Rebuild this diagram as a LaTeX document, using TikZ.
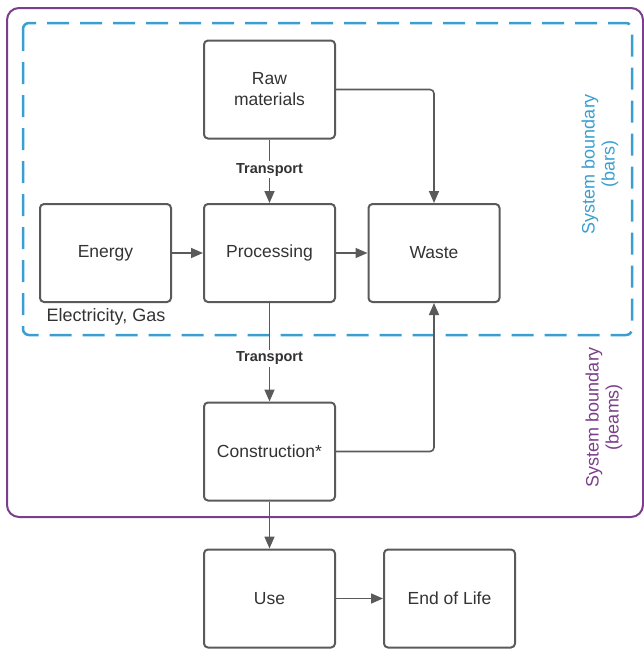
\documentclass[tikz,border=0pt]{standalone}
\usepackage{fontspec}
\setmainfont{Liberation Sans}
\usetikzlibrary{arrows.meta}
\definecolor{boxline}{HTML}{5A5A5A}
\definecolor{boxtext}{HTML}{333333}
\definecolor{bluebd}{HTML}{3A9FD0}
\definecolor{purplebd}{HTML}{7A3E8A}
\tikzset{
  flowbox/.style={draw=boxline, line width=2pt, rounded corners=4pt, minimum width=131pt, minimum height=98pt, inner sep=0pt, align=center, text=boxtext, font=\fontsize{17.5}{21}\selectfont},
  flowarrow/.style={draw=boxline, line width=1.6pt, -{Triangle[length=12pt,width=10pt]}},
  translabel/.style={fill=white, inner sep=2pt, text=boxtext, font=\fontsize{14.5}{17}\selectfont\bfseries},
  sidelabel/.style={rotate=90, align=center, font=\fontsize{18}{20}\selectfont}
}
\begin{document}
\begin{tikzpicture}[x=1pt,y=-1pt]
\useasboundingbox (0,0) rectangle (644,649);
% boundaries
\draw[purplebd, line width=2pt, rounded corners=12pt] (7,8) rectangle (643,517);
\draw[bluebd, line width=2.5pt, dash pattern=on 22pt off 11pt, rounded corners=6pt] (23,23) rectangle (632,335);
% boxes
\node[flowbox] (raw) at (269.5,89.5) {Raw\\materials};
\node[flowbox] (energy) at (105.5,253) {Energy};
\node[flowbox] (proc) at (269.5,253) {Processing};
\node[flowbox] (waste) at (434,253) {Waste};
\node[flowbox] (cons) at (269.5,451.5) {Construction*};
\node[flowbox] (use) at (269.5,598.5) {Use};
\node[flowbox] (eol) at (449.5,598.5) {End of Life};
% labels
\node[text=boxtext, font=\fontsize{18}{20}\selectfont] (elec) at (106,317) {Electricity, Gas};
\node[text=bluebd, sidelabel] (sbbars) at (600,164) {System boundary\\(bars)};
\node[text=purplebd, sidelabel] (sbbeams) at (604,417) {System boundary\\(beams)};
% connectors
\coordinate (rw) at (434,89.5);
\coordinate (cw) at (434,451.5);
\draw[flowarrow] (raw) -- node[translabel, pos=0.48] (t1) {Transport} (proc);
\draw[flowarrow] (energy) -- (proc);
\draw[flowarrow] (proc) -- (waste);
\draw[flowarrow, rounded corners=4pt] (raw.east) -- (rw) -- (waste.north);
\draw[flowarrow] (proc) -- node[translabel, pos=0.56] (t2) {Transport} (cons);
\draw[flowarrow, rounded corners=4pt] (cons.east) -- (cw) -- (waste.south);
\draw[flowarrow] (cons) -- (use);
\draw[flowarrow] (use) -- (eol);
\end{tikzpicture}
\end{document}
